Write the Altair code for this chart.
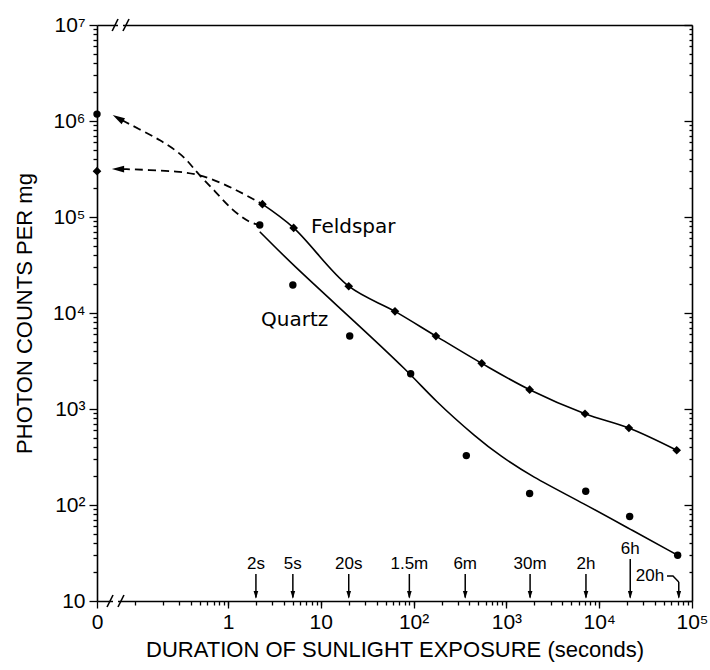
import altair as alt
import pandas as pd

# ---------------- data ----------------
X_ZERO = 0.03877  # where the "0" exposure sits on the broken log axis

feld_t = [X_ZERO, 2.35, 5.1, 20, 63, 174, 542, 1780, 7030, 20900, 68400]
feld_c = [3.0e5, 1.36e5, 7.7e4, 1.9e4, 1.04e4, 5.75e3, 2.99e3, 1.59e3, 893, 634, 372]

quartz_t = [X_ZERO, 2.2, 5.0, 20.5, 93, 370, 1780, 7160, 21300, 70100]
quartz_c = [1.18e6, 8.25e4, 1.96e4, 5.75e3, 2.33e3, 327, 132, 139, 76, 30]

# solid fitted curves
feld_fit_t = [2.35, 5.1, 20, 63, 174, 542, 1780, 7030, 20900, 68400]
feld_fit_c = [1.36e5, 7.7e4, 1.9e4, 1.04e4, 5.75e3, 2.99e3, 1.59e3, 893, 634, 372]
quartz_fit_t = [2.2, 5.0, 20.5, 93, 162, 494, 853, 1800, 7030, 21500, 70100]
quartz_fit_c = [7.03e4, 3.16e4, 9.08e3, 2.33e3, 1.27e3, 487, 327, 202, 102, 56, 30]

# dashed extrapolations toward zero exposure
feld_ext_t = [0.0721, 0.144, 0.282, 0.475, 0.862, 1.416, 2.35]
feld_ext_c = [3.16e5, 3.09e5, 2.98e5, 2.81e5, 2.26e5, 1.78e5, 1.36e5]
quartz_ext_t = [0.0721, 0.121, 0.185, 0.282, 0.371, 0.475, 0.724, 1.10, 1.73, 2.2]
quartz_ext_c = [1.02e6, 7.87e5, 6.34e5, 4.87e5, 3.83e5, 2.81e5, 1.87e5, 1.18e5, 8.66e4, 8.25e4]

# arrowheads at the left end of the dashed curves
head_t = [0.0653, 0.0653]
head_c = [3.16e5, 1.07e6]
head_angle = [270, 300]

# exposure-time markers along the bottom
mark_t = [2, 5, 20, 90, 360, 1800, 7200, 21600, 72000]
mark_lab = ["2s", "5s", "20s", "1.5m", "6m", "30m", "2h", "6h", "20h"]
mark_lab_t = [2, 5, 20, 90, 360, 1800, 7200, 21600, 35200]
mark_lab_c = [24.3, 24.3, 24.3, 24.3, 24.3, 24.3, 24.3, 34.8, 18.2]
mark_top_c = [19.1, 19.1, 19.1, 19.1, 19.1, 19.1, 19.1, 27.4, 15.8]
hook_t = [53800, 62400, 72000]
hook_c = [18.2, 18.2, 15.8]

# series labels
name_lab = ["Feldspar", "Quartz"]
name_t = [7.84, 2.27]
name_c = [7.87e4, 8.5e3]

# axis break marks ("//")
brk_bot_x1 = [0.0497, 0.0653]
brk_bot_x2 = [0.0577, 0.0757]
brk_top_x1 = [0.0565, 0.0739]
brk_top_x2 = [0.0653, 0.0859]

x_major = [X_ZERO, 1, 10, 100, 1000, 1e4, 1e5]
x_minor = [m * 10 ** e for e in range(-1, 5) for m in range(1, 10)]
y_major = [10, 100, 1e3, 1e4, 1e5, 1e6, 1e7]
y_minor = [m * 10 ** e for e in range(1, 7) for m in range(2, 10)]

# ---------------- chart ----------------
W, H = 595, 576
FONT = "Liberation Sans"
XS = alt.Scale(type="log", domain=[X_ZERO, 1e5], nice=False)
YS = alt.Scale(type="log", domain=[10, 1e7], nice=False)

common = dict(grid=False, domainColor="black", tickColor="black", labelColor="black",
              titleColor="black", domainWidth=1.6, tickWidth=1.3)

ax_x_major = alt.Axis(
    orient="bottom", values=x_major, tickSize=7, labelFontSize=21, labelFont=FONT,
    labelPadding=3, labelFlush=False, labelOverlap=False,
    labelExpr="datum.value < 0.5 ? '0' : datum.value < 5 ? '1' : datum.value < 50 ? '10' : "
              "datum.value < 500 ? '10²' : datum.value < 5000 ? '10³' : "
              "datum.value < 50000 ? '10⁴' : '10⁵'",
    title="DURATION OF SUNLIGHT EXPOSURE (seconds)", titleFont=FONT, titleFontSize=22,
    titleFontWeight="normal", titlePadding=7, **common)
ax_x_minor = alt.Axis(orient="bottom", values=x_minor, tickSize=4, labels=False,
                      domain=False, title=None, **common)
ax_x_top = alt.Axis(orient="top", values=[], ticks=False, labels=False, title=None, **common)
ax_y_major = alt.Axis(
    orient="left", values=y_major, tickSize=8, labelFontSize=21, labelFont=FONT,
    labelPadding=4, labelFlush=False, labelOverlap=False,
    labelExpr="datum.value < 50 ? '10' : datum.value < 500 ? '10²' : datum.value < 5000 ? '10³' : "
              "datum.value < 50000 ? '10⁴' : datum.value < 500000 ? '10⁵' : "
              "datum.value < 5000000 ? '10⁶' : '10⁷'",
    title="PHOTON COUNTS PER mg", titleFont=FONT, titleFontSize=22,
    titleFontWeight="normal", titlePadding=16, **common)
ax_y_minor = alt.Axis(orient="left", values=y_minor, tickSize=4, labels=False,
                      domain=False, title=None, **common)
ax_y_right = alt.Axis(orient="left", offset=-W, values=y_major, tickSize=8, labels=False,
                      title=None, **common)
ax_y_right_minor = alt.Axis(orient="left", offset=-W, values=y_minor, tickSize=3,
                            labels=False, domain=False, title=None, **common)


def X(field, axis=None):
    return alt.X(field, type="quantitative", scale=XS, axis=axis)


def Y(field, axis=None):
    return alt.Y(field, type="quantitative", scale=YS, axis=axis)


df_feld = pd.DataFrame({"t": feld_t, "c": feld_c})
df_quartz = pd.DataFrame({"t": quartz_t, "c": quartz_c})
df_ffit = pd.DataFrame({"t": feld_fit_t, "c": feld_fit_c})
df_qfit = pd.DataFrame({"t": quartz_fit_t, "c": quartz_fit_c})
df_fext = pd.DataFrame({"t": feld_ext_t, "c": feld_ext_c})
df_qext = pd.DataFrame({"t": quartz_ext_t, "c": quartz_ext_c})
df_head = pd.DataFrame({"t": head_t, "c": head_c, "a": head_angle})
df_mark = pd.DataFrame({"t": mark_t, "top": mark_top_c, "lab": mark_lab,
                        "lt": mark_lab_t, "lc": mark_lab_c})
df_hook = pd.DataFrame({"t": hook_t, "c": hook_c})
df_name = pd.DataFrame({"lab": name_lab, "t": name_t, "c": name_c})
df_bb = pd.DataFrame({"x1": brk_bot_x1, "x2": brk_bot_x2})
df_bt = pd.DataFrame({"x1": brk_top_x1, "x2": brk_top_x2})
df_gap_b = pd.DataFrame({"x1": [brk_bot_x2[0]], "x2": [brk_bot_x1[1]]})
df_gap_t = pd.DataFrame({"x1": [brk_top_x2[0]], "x2": [brk_top_x1[1]]})

q_line = alt.Chart(df_qfit).mark_line(color="black", strokeWidth=1.6, interpolate="basis").encode(
    x=X("t", ax_x_major), y=Y("c", ax_y_major))
f_line = alt.Chart(df_ffit).mark_line(color="black", strokeWidth=1.6,
                                      interpolate="catmull-rom").encode(
    x=X("t", ax_x_minor), y=Y("c", ax_y_minor))
f_ext = alt.Chart(df_fext).mark_line(color="black", strokeWidth=1.8, strokeDash=[8, 5],
                                     interpolate="basis").encode(
    x=X("t", ax_x_top), y=Y("c", ax_y_right))
q_ext = alt.Chart(df_qext).mark_line(color="black", strokeWidth=1.8, strokeDash=[8, 5],
                                     interpolate="basis").encode(
    x=X("t"), y=Y("c", ax_y_right_minor))
heads = alt.Chart(df_head).mark_point(shape="M0,-1L0.55,1L-0.55,1Z", filled=True, color="black",
                                      size=150, opacity=1).encode(
    x=X("t"), y=Y("c"), angle=alt.Angle("a:Q", scale=None))
f_pts = alt.Chart(df_feld).mark_point(shape="diamond", filled=True, color="black", size=75,
                                      opacity=1).encode(x=X("t"), y=Y("c"))
q_pts = alt.Chart(df_quartz).mark_point(shape="circle", filled=True, color="black", size=55,
                                        opacity=1).encode(x=X("t"), y=Y("c"))
names = alt.Chart(df_name).mark_text(align="left", baseline="middle", font="DejaVu Sans",
                                     fontSize=20, color="black").encode(
    x=X("t"), y=Y("c"), text="lab:N")

m_rules = alt.Chart(df_mark).mark_rule(color="black", strokeWidth=1.5).encode(
    x=X("t"), y=Y("top"), y2=alt.datum(10.9))
m_heads = alt.Chart(df_mark).mark_point(shape="M0,1L0.6,-1L-0.6,-1Z", filled=True, color="black",
                                        size=60, opacity=1).encode(
    x=X("t"), y=alt.Y("m:Q", scale=YS, axis=None)).transform_calculate(m="11.6")
m_text = alt.Chart(df_mark).mark_text(align="center", baseline="middle", font=FONT,
                                      fontSize=17, color="black").encode(
    x=X("lt"), y=Y("lc"), text="lab:N")
hook = alt.Chart(df_hook).mark_line(color="black", strokeWidth=1.5).encode(x=X("t"), y=Y("c"))

gap_b = alt.Chart(df_gap_b).mark_rule(color="white", strokeWidth=6).encode(
    x=X("x1"), x2="x2", y=alt.value(H))
gap_t = alt.Chart(df_gap_t).mark_rule(color="white", strokeWidth=6).encode(
    x=X("x1"), x2="x2", y=alt.value(0))
brk_b = alt.Chart(df_bb).mark_rule(color="black", strokeWidth=1.6).encode(
    x=X("x1"), x2="x2", y=alt.value(H + 6), y2=alt.value(H - 6))
brk_t = alt.Chart(df_bt).mark_rule(color="black", strokeWidth=1.6).encode(
    x=X("x1"), x2="x2", y=alt.value(6), y2=alt.value(-6))

chart = alt.layer(
    q_line, f_line, f_ext, q_ext, heads, f_pts, q_pts, names,
    m_rules, m_heads, m_text, hook, gap_b, gap_t, brk_b, brk_t
).resolve_axis(x="independent", y="independent").properties(
    width=W, height=H,
    autosize=alt.AutoSizeParams(type="none"),
    padding={"left": 97, "top": 25, "right": 18, "bottom": 69},
    background="white",
).configure_view(stroke=None)

chart.save("out.html", embed_options={"renderer": "svg", "actions": False})
